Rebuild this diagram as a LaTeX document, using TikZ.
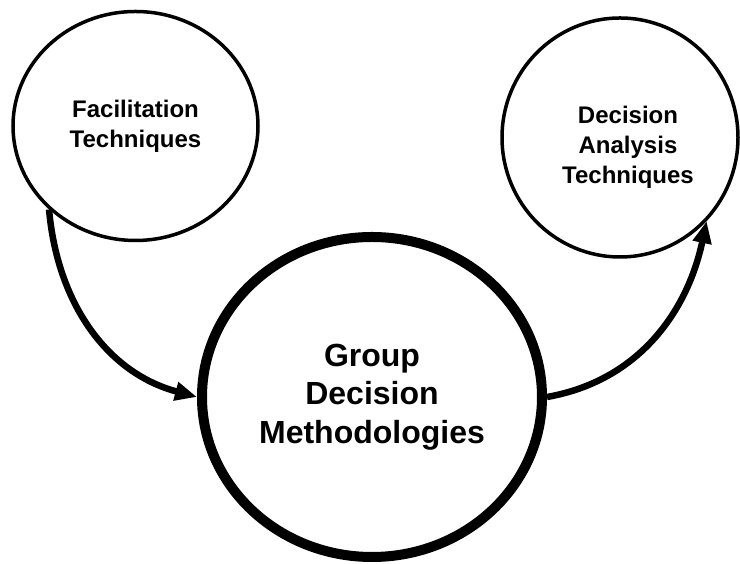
\documentclass[tikz,border=0pt]{standalone}
\usepackage{fontspec}
\setmainfont{Liberation Sans}
\usepackage{tikz}
\usetikzlibrary{shapes}
\usetikzlibrary{arrows.meta}
\tikzstyle{bubble}=[ellipse,draw=black,line width=3.5pt,inner sep=0pt]
\tikzstyle{bigbubble}=[ellipse,draw=black,line width=10pt,inner sep=0pt]
\tikzstyle{smalltext}=[font=\fontsize{24}{30}\selectfont\bfseries,align=center]
\tikzstyle{bigtext}=[font=\fontsize{32}{38.5}\selectfont\bfseries,align=center]
\tikzstyle{flow} = [draw,line width=6.5pt,-{Triangle[length=22pt,width=18pt]}]

\begin{document}
\begin{tikzpicture}[x=1pt, y=1pt]

  \useasboundingbox (0,0) rectangle (740,564);

  % the two small bubbles
  \node[bubble, smalltext, minimum width=245pt, minimum height=229pt] (fac) at (135.5, 438) {Facilitation\\Techniques};
  \node[bubble, minimum width=236pt, minimum height=239pt,
        label={[smalltext, name=dectext, xshift=8pt, yshift=-10pt]center:{Decision\\Analysis\\Techniques}}] (dec) at (620, 426.5) {};

  % the big one
  \node[bigbubble, bigtext, minimum width=340pt, minimum height=320pt] (grp) at (372, 167) {Group\\Decision\\Methodologies};

  \draw[flow] (fac.224) to[out=-85, in=165] (grp.west);
  \draw[flow] (grp.east) to[out=10, in=-102] (dec.-44);
%  \draw[flow] (grp.east) to[out=0, in=-90] (dec.south east);

\end{tikzpicture}
\end{document}
